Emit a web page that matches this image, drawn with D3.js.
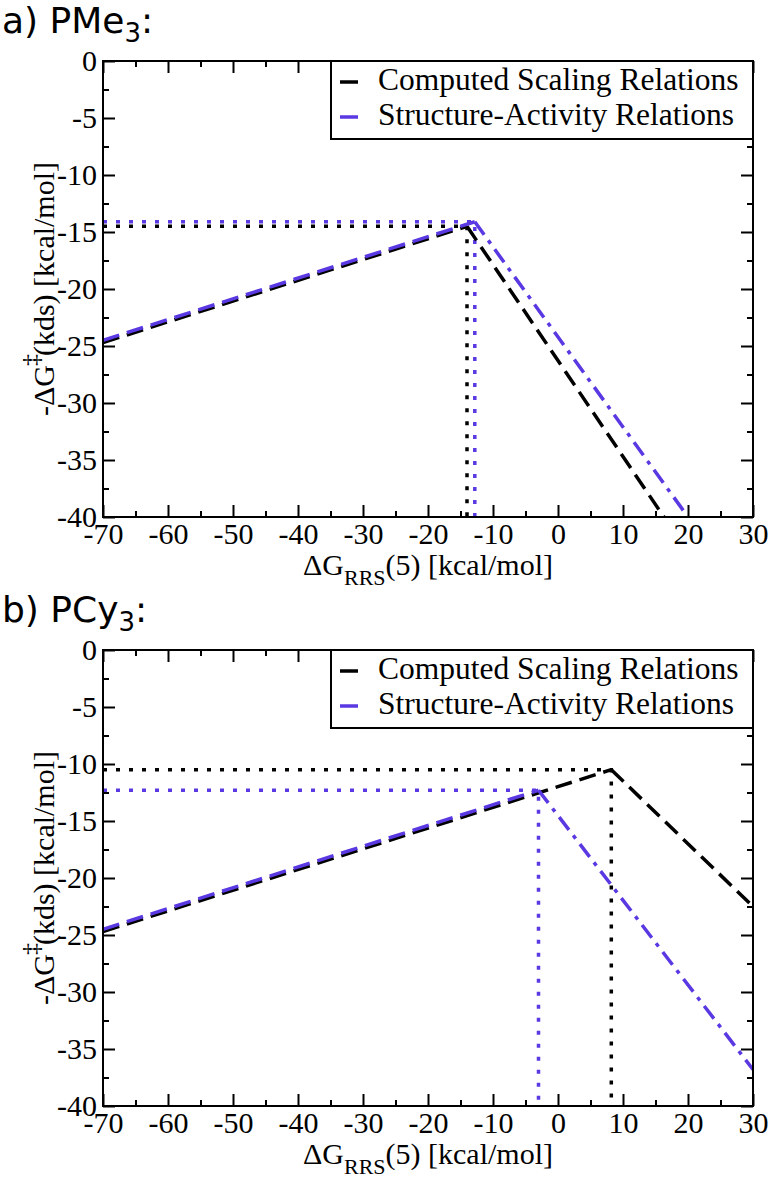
<!DOCTYPE html>
<html>
<head>
<meta charset="utf-8">
<script src="https://cdnjs.cloudflare.com/ajax/libs/d3/7.8.5/d3.min.js"></script>
<style>
  body { margin: 0; background: #fff; }
  svg { display: block; }
</style>
</head>
<body>
<div id="chart"></div>
<script>
// ---------------- data ----------------
const panelTitles = ["a) PMe", "b) PCy"];
const seriesNames = ["Computed Scaling Relations", "Structure-Activity Relations"];
// [x, y] points: start, peak, end
const computedA = [[-70, -24.7], [-14.0, -14.5], [16.3, -40]];
const sarA      = [[-70, -24.5], [-12.8, -14.1], [20.0, -40]];
const computedB = [[-70, -24.7], [8.2, -10.5], [30, -22.5]];
const sarB      = [[-70, -24.5], [-3.0, -12.3], [30, -36.8]];
const xTickValues  = [-70, -60, -50, -40, -30, -20, -10, 0, 10, 20, 30];
const xMinorValues = [-65, -55, -45, -35, -25, -15, -5, 5, 15, 25];
const yTickValues  = [0, -5, -10, -15, -20, -25, -30, -35, -40];
const yMinorValues = [-2.5, -7.5, -12.5, -17.5, -22.5, -27.5, -32.5, -37.5];
const xDomain = [-70, 30];
const yDomain = [-40, 0];

// ---------------- layout ----------------
const W = 772, H = 1180;
const left = 103, right = 753, plotH = 456;
const tops = [61, 650];
const colors = ["#000000", "#5a38e2"];
const serif = '"Liberation Serif", "Times New Roman", serif';
const sans = '"DejaVu Sans", sans-serif';

const svg = d3.select("#chart").append("svg").attr("width", W).attr("height", H);

const panels = [
  { title: panelTitles[0], series: [computedA, sarA] },
  { title: panelTitles[1], series: [computedB, sarB] }
];

panels.forEach((p, pi) => {
  const top = tops[pi], bottom = top + plotH;
  const x = d3.scaleLinear().domain(xDomain).range([left, right]);
  const y = d3.scaleLinear().domain(yDomain).range([bottom, top]);
  const g = svg.append("g");

  // title
  const t = g.append("text").attr("x", 2).attr("y", top - 28)
    .style("font-family", sans).style("font-size", "36px").attr("fill", "#000");
  t.append("tspan").text(p.title);
  t.append("tspan").attr("dy", 9).style("font-size", "26px").text("3");
  t.append("tspan").attr("dy", -9).text(":");

  const clipId = "clip" + pi;
  g.append("clipPath").attr("id", clipId).append("rect")
    .attr("x", left).attr("y", top).attr("width", right - left).attr("height", plotH);

  const lineGen = d3.line().x(d => x(d[0])).y(d => y(d[1]));
  const plotG = g.append("g").attr("clip-path", `url(#${clipId})`);

  // dotted guide lines from each peak
  p.series.forEach((s, si) => {
    const peak = s[1];
    const guide = [[xDomain[0], peak[1]], [peak[0], peak[1]], [peak[0], yDomain[0]]];
    plotG.append("path").attr("d", lineGen(guide))
      .attr("fill", "none").attr("stroke", colors[si]).attr("stroke-width", 3.5)
      .attr("stroke-dasharray", "4,9");
  });

  // main lines
  p.series.forEach((s, si) => {
    plotG.append("path").attr("d", lineGen(s.slice(0, 2)))
      .attr("fill", "none").attr("stroke", colors[si]).attr("stroke-width", 3.5)
      .attr("stroke-dasharray", "17,8");
    plotG.append("path").attr("d", lineGen(s.slice(1, 3)))
      .attr("fill", "none").attr("stroke", colors[si]).attr("stroke-width", 3.5)
      .attr("stroke-dasharray", si === 0 ? "17,8" : "16,7,4,7");
  });

  // axes (ticks inside)
  const fmt = d => String(d);
  const axes = [
    { a: d3.axisBottom(x).tickValues(xTickValues).tickSize(-12).tickPadding(6).tickFormat(fmt), tr: `translate(0,${bottom})` },
    { a: d3.axisBottom(x).tickValues(xMinorValues).tickSize(-6).tickFormat(""), tr: `translate(0,${bottom})` },
    { a: d3.axisTop(x).tickValues(xTickValues).tickSize(-12).tickFormat(""), tr: `translate(0,${top})` },
    { a: d3.axisTop(x).tickValues(xMinorValues).tickSize(-6).tickFormat(""), tr: `translate(0,${top})` },
    { a: d3.axisLeft(y).tickValues(yTickValues).tickSize(-12).tickPadding(6).tickFormat(fmt), tr: `translate(${left},0)` },
    { a: d3.axisLeft(y).tickValues(yMinorValues).tickSize(-6).tickFormat(""), tr: `translate(${left},0)` },
    { a: d3.axisRight(y).tickValues(yTickValues).tickSize(-12).tickFormat(""), tr: `translate(${right},0)` },
    { a: d3.axisRight(y).tickValues(yMinorValues).tickSize(-6).tickFormat(""), tr: `translate(${right},0)` }
  ];
  axes.forEach(ax => {
    const ag = g.append("g").attr("transform", ax.tr).call(ax.a.tickSizeOuter(0));
    ag.attr("font-family", null).attr("font-size", null);
    ag.select(".domain").remove();
    ag.selectAll(".tick line").attr("stroke", "#000").attr("stroke-width", 2);
    ag.selectAll("text").style("font-family", serif).style("font-size", "30px").attr("fill", "#000");
  });

  // frame
  g.append("rect").attr("x", left).attr("y", top).attr("width", right - left).attr("height", plotH)
    .attr("fill", "none").attr("stroke", "#000").attr("stroke-width", 2);

  // x axis label
  const xl = g.append("text").attr("x", (left + right) / 2).attr("y", bottom + 58)
    .attr("text-anchor", "middle").style("font-family", serif).style("font-size", "30px").attr("fill", "#000");
  xl.append("tspan").text("ΔG");
  xl.append("tspan").attr("dy", 10).style("font-size", "22px").text("RRS");
  xl.append("tspan").attr("dy", -10).text("(5) [kcal/mol]");

  // y axis label
  const yl = g.append("text")
    .attr("transform", `translate(54,${(top + bottom) / 2}) rotate(-90)`)
    .attr("text-anchor", "middle").style("font-family", serif).style("font-size", "30px").attr("fill", "#000");
  yl.append("tspan").text("-ΔG");
  yl.append("tspan").attr("dx", -1).attr("dy", -15).style("font-size", "24px").text("‡");
  yl.append("tspan").attr("dx", -2).attr("dy", 15).text("(kds) [kcal/mol]");

  // legend
  const lgX = 331, lgW = right - lgX, lgH = 78;
  g.append("rect").attr("x", lgX).attr("y", top).attr("width", lgW).attr("height", lgH)
    .attr("fill", "#fff").attr("stroke", "#000").attr("stroke-width", 2);
  seriesNames.forEach((name, i) => {
    const ly = top + 21 + i * 35;
    g.append("line").attr("x1", 340).attr("x2", 358).attr("y1", ly).attr("y2", ly)
      .attr("stroke", colors[i]).attr("stroke-width", 3.5);
    g.append("text").attr("x", 378).attr("y", ly + 8)
      .style("font-family", serif).style("font-size", "31.5px").attr("fill", "#000").text(name);
  });
});
</script>
</body>
</html>
